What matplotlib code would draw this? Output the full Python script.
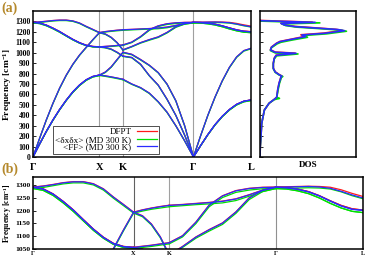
import matplotlib
matplotlib.use('Agg')
import matplotlib.pyplot as plt

plt.rcParams['font.family'] = ['Liberation Serif', 'DejaVu Serif']
plt.rcParams['font.weight'] = 'bold'
plt.rcParams['axes.labelweight'] = 'bold'
plt.rcParams['mathtext.fontset'] = 'custom'
plt.rcParams['mathtext.rm'] = 'Liberation Serif:bold'
plt.rcParams['mathtext.bf'] = 'Liberation Serif:bold'
plt.rcParams['mathtext.it'] = 'Liberation Serif:bold'

# ---------------- path ----------------
kpath_labels = ['Γ', 'X', 'K', 'Γ', 'L']
seg_lengths = [1.0, 0.354, 1.061, 0.866]

frac_gx = [0.0, 0.1, 0.2, 0.3, 0.4, 0.5, 0.6, 0.7, 0.8, 0.9, 1.0]
frac_xk = [0.0, 0.25, 0.5, 0.75, 1.0]
frac_kg = [0.0, 0.125, 0.25, 0.375, 0.5, 0.625, 0.75, 0.875, 1.0]
frac_gl = [0.0, 0.125, 0.25, 0.375, 0.5, 0.625, 0.75, 0.875, 1.0]

# ---------------- DFPT (red) ----------------
dfpt_gx_ta = [0, 125, 245, 355, 455, 545, 625, 690, 740, 772, 786]
dfpt_gx_la = [0, 180, 355, 515, 660, 785, 890, 978, 1052, 1125, 1194]
dfpt_gx_to = [1292, 1285, 1265, 1236, 1203, 1165, 1128, 1096, 1072, 1060, 1057]
dfpt_gx_lo = [1292, 1296, 1302, 1309, 1313, 1313, 1305, 1285, 1253, 1224, 1194]

dfpt_xk_1 = [786, 778, 768, 757, 745]
dfpt_xk_2 = [786, 815, 865, 935, 1005]
dfpt_xk_3 = [1057, 1061, 1065, 1070, 1075]
dfpt_xk_4 = [1057, 1050, 1035, 1005, 968]
dfpt_xk_5 = [1194, 1180, 1148, 1098, 1028]
dfpt_xk_6 = [1194, 1203, 1210, 1216, 1221]

dfpt_kg_a1 = [745, 700, 665, 612, 530, 430, 300, 155, 0]
dfpt_kg_a2 = [968, 955, 890, 780, 690, 555, 400, 210, 0]
dfpt_kg_a3 = [1005, 985, 935, 880, 810, 700, 540, 300, 0]
dfpt_kg_o1 = [1028, 1060, 1097, 1126, 1152, 1195, 1250, 1280, 1292]
dfpt_kg_o2 = [1075, 1102, 1155, 1222, 1258, 1278, 1287, 1291, 1292]
dfpt_kg_o3 = [1221, 1224, 1228, 1232, 1237, 1246, 1262, 1280, 1292]

dfpt_gl_ta = [0, 110, 215, 310, 390, 455, 505, 535, 547]
dfpt_gl_la = [0, 205, 400, 575, 730, 860, 960, 1020, 1042]
dfpt_gl_to = [1292, 1290, 1284, 1274, 1258, 1238, 1220, 1207, 1202]
dfpt_gl_lo = [1292, 1293, 1294, 1295, 1294, 1291, 1281, 1267, 1255]

# ---------------- <dx dx> (green) ----------------
dxdx_gx_ta = [0, 124, 243, 352, 452, 541, 620, 685, 735, 767, 781]
dxdx_gx_la = [0, 179, 353, 512, 656, 781, 886, 974, 1048, 1121, 1190]
dxdx_gx_to = [1286, 1279, 1259, 1230, 1197, 1160, 1123, 1092, 1068, 1056, 1053]
dxdx_gx_lo = [1286, 1290, 1297, 1304, 1308, 1308, 1300, 1280, 1248, 1219, 1190]

dxdx_xk_1 = [781, 773, 763, 752, 740]
dxdx_xk_2 = [781, 810, 860, 930, 1000]
dxdx_xk_3 = [1053, 1056, 1060, 1065, 1070]
dxdx_xk_4 = [1053, 1046, 1031, 1001, 964]
dxdx_xk_5 = [1190, 1176, 1144, 1094, 1024]
dxdx_xk_6 = [1190, 1198, 1205, 1210, 1215]

dxdx_kg_a1 = [740, 696, 661, 608, 527, 427, 298, 154, 0]
dxdx_kg_a2 = [964, 951, 886, 777, 687, 552, 398, 209, 0]
dxdx_kg_a3 = [1000, 980, 930, 876, 806, 697, 537, 298, 0]
dxdx_kg_o1 = [1024, 1056, 1092, 1120, 1146, 1189, 1243, 1274, 1286]
dxdx_kg_o2 = [1070, 1097, 1149, 1215, 1251, 1271, 1280, 1285, 1286]
dxdx_kg_o3 = [1215, 1219, 1223, 1226, 1230, 1239, 1256, 1274, 1286]

dxdx_gl_ta = [0, 109, 213, 307, 386, 450, 499, 529, 541]
dxdx_gl_la = [0, 204, 398, 572, 727, 856, 955, 1015, 1037]
dxdx_gl_to = [1286, 1284, 1277, 1266, 1249, 1228, 1210, 1197, 1192]
dxdx_gl_lo = [1286, 1287, 1288, 1289, 1288, 1284, 1273, 1258, 1246]

# ---------------- <FF> (blue) ----------------
ff_gx_ta = [0, 125, 245, 355, 455, 545, 625, 690, 740, 772, 786]
ff_gx_la = [0, 180, 355, 515, 660, 784, 889, 977, 1051, 1124, 1193]
ff_gx_to = [1291, 1284, 1264, 1235, 1202, 1164, 1127, 1095, 1071, 1059, 1056]
ff_gx_lo = [1291, 1295, 1301, 1308, 1312, 1312, 1304, 1284, 1252, 1223, 1193]

ff_xk_1 = [786, 778, 768, 757, 745]
ff_xk_2 = [786, 814, 864, 934, 1004]
ff_xk_3 = [1056, 1060, 1064, 1069, 1074]
ff_xk_4 = [1056, 1049, 1034, 1004, 967]
ff_xk_5 = [1193, 1179, 1147, 1097, 1027]
ff_xk_6 = [1193, 1202, 1209, 1215, 1220]

ff_kg_a1 = [745, 700, 665, 612, 530, 430, 300, 155, 0]
ff_kg_a2 = [967, 954, 889, 779, 689, 554, 399, 210, 0]
ff_kg_a3 = [1004, 984, 934, 879, 809, 699, 539, 300, 0]
ff_kg_o1 = [1027, 1059, 1096, 1125, 1151, 1194, 1249, 1279, 1291]
ff_kg_o2 = [1074, 1101, 1154, 1221, 1257, 1277, 1286, 1290, 1291]
ff_kg_o3 = [1220, 1223, 1227, 1231, 1236, 1245, 1261, 1279, 1291]

ff_gl_ta = [0, 110, 215, 310, 390, 455, 505, 535, 547]
ff_gl_la = [0, 205, 400, 575, 730, 860, 960, 1020, 1042]
ff_gl_to = [1291, 1289, 1283, 1273, 1257, 1237, 1218, 1205, 1201]
ff_gl_lo = [1291, 1292, 1293, 1294, 1292, 1287, 1275, 1261, 1249]

# ---------------- DOS ----------------
dos_f_dfpt = [0, 100, 195, 323, 450, 515, 553, 572, 600, 642, 706, 767, 777, 792, 817, 852, 900, 948, 977, 996,
              1006, 1028, 1054, 1092, 1108, 1130, 1156, 1172, 1188, 1213, 1224, 1236, 1252, 1267, 1283, 1293, 1309, 1312]
dos_d_dfpt = [0, 0.3, 1.0, 1.8, 4.6, 9.5, 15, 17.5, 18, 18.6, 20, 22, 23, 20, 16, 14, 14, 15, 17, 37,
              16, 11, 12, 17.5, 21, 33, 47, 43, 67, 87, 80, 62, 37, 26, 22, 55, 1, 0]

dos_f_dxdx = [0, 100, 195, 323, 450, 515, 550, 562, 568, 600, 642, 706, 762, 772, 787, 812, 846, 894, 940, 970,
              988, 998, 1020, 1047, 1085, 1100, 1122, 1148, 1165, 1181, 1206, 1217, 1229, 1245, 1260, 1276, 1286, 1303, 1306]
dos_d_dxdx = [0, 0.3, 1.0, 1.8, 4.6, 9.5, 15, 20.5, 17.5, 18.2, 19, 20.5, 22.5, 24, 20, 16, 14, 14, 15, 17.5,
              40, 16, 11, 12, 18, 22, 34, 50, 46, 70, 91, 84, 66, 39, 27, 23, 63, 1, 0]

dos_f_ff = [0, 100, 195, 323, 450, 515, 553, 572, 600, 642, 706, 765, 775, 790, 815, 850, 898, 946, 975, 994,
            1004, 1026, 1052, 1090, 1106, 1128, 1154, 1170, 1186, 1211, 1222, 1234, 1250, 1265, 1281, 1291, 1307, 1310]
dos_d_ff = [0, 0.3, 1.0, 1.8, 4.6, 9.5, 15, 17.5, 18, 18.6, 20, 22, 23, 20, 16, 14, 14, 15, 17, 38,
            16, 11, 12, 17.5, 21, 33, 48, 44, 68, 89, 82, 63, 37, 26, 22, 58, 1, 0]

series_labels = ['DFPT', '<δxδx> (MD 300 K)', '<FF> (MD 300 K)']
series_colors = ['#ff1a1a', '#00e000', '#2b2bff']

datasets = [
    [[dfpt_gx_ta, dfpt_gx_ta, dfpt_gx_la, dfpt_gx_to, dfpt_gx_to, dfpt_gx_lo],
     [dfpt_xk_1, dfpt_xk_2, dfpt_xk_3, dfpt_xk_4, dfpt_xk_5, dfpt_xk_6],
     [dfpt_kg_a1, dfpt_kg_a2, dfpt_kg_a3, dfpt_kg_o1, dfpt_kg_o2, dfpt_kg_o3],
     [dfpt_gl_ta, dfpt_gl_ta, dfpt_gl_la, dfpt_gl_to, dfpt_gl_to, dfpt_gl_lo]],
    [[dxdx_gx_ta, dxdx_gx_ta, dxdx_gx_la, dxdx_gx_to, dxdx_gx_to, dxdx_gx_lo],
     [dxdx_xk_1, dxdx_xk_2, dxdx_xk_3, dxdx_xk_4, dxdx_xk_5, dxdx_xk_6],
     [dxdx_kg_a1, dxdx_kg_a2, dxdx_kg_a3, dxdx_kg_o1, dxdx_kg_o2, dxdx_kg_o3],
     [dxdx_gl_ta, dxdx_gl_ta, dxdx_gl_la, dxdx_gl_to, dxdx_gl_to, dxdx_gl_lo]],
    [[ff_gx_ta, ff_gx_ta, ff_gx_la, ff_gx_to, ff_gx_to, ff_gx_lo],
     [ff_xk_1, ff_xk_2, ff_xk_3, ff_xk_4, ff_xk_5, ff_xk_6],
     [ff_kg_a1, ff_kg_a2, ff_kg_a3, ff_kg_o1, ff_kg_o2, ff_kg_o3],
     [ff_gl_ta, ff_gl_ta, ff_gl_la, ff_gl_to, ff_gl_to, ff_gl_lo]],
]
dos_sets = [(dos_f_dfpt, dos_d_dfpt), (dos_f_dxdx, dos_d_dxdx), (dos_f_ff, dos_d_ff)]
seg_fracs = [frac_gx, frac_xk, frac_kg, frac_gl]

# high-symmetry positions
kpos = [0.0]
for L in seg_lengths:
    kpos.append(kpos[-1] + L)

W, H = 374, 262
fig = plt.figure(figsize=(W / 100, H / 100), dpi=100)
ax1 = fig.add_axes([33 / W, 1 - 157 / H, 218 / W, 146 / H])
ax2 = fig.add_axes([260 / W, 1 - 157 / H, 96 / W, 146 / H])
ax3 = fig.add_axes([33 / W, 1 - 249 / H, 330 / W, 72 / H])


def draw_bands(ax, lw):
    handles = []
    for data, color, lab in zip(datasets, series_colors, series_labels):
        h = None
        for si, branches in enumerate(data):
            xs = [kpos[si] + f * seg_lengths[si] for f in seg_fracs[si]]
            for b in branches:
                (h,) = ax.plot(xs, b, color=color, lw=lw, solid_joinstyle='round')
        h.set_label(lab)
        handles.append(h)
    return handles


# ---- panel (a) ----
handles = draw_bands(ax1, 0.9)
for x in kpos[1:4]:
    ax1.axvline(x, color='#a0a0a0', lw=0.8, zorder=0)
ax1.set_xlim(kpos[0], kpos[-1])
ax1.set_ylim(0, 1400)
ax1.set_yticks(range(0, 1301, 100))
ax1.set_xticks(kpos, kpath_labels)
ax1.tick_params(axis='y', direction='in', length=2.5, width=0.6, labelsize=5.6, pad=2)
ax1.tick_params(axis='x', length=0, labelsize=7.5, pad=4)
leg = ax1.legend(handles=handles, loc='upper left', bbox_to_anchor=(0.092, 0.215),
                 markerfirst=False, prop={'weight': 'normal', 'size': 6.6},
                 frameon=True, fancybox=False, edgecolor='#333333', framealpha=1,
                 handlelength=2.2, handletextpad=0.6, labelspacing=-0.1, borderpad=0.25,
                 borderaxespad=0)
leg.get_frame().set_linewidth(0.6)

# ---- DOS ----
for (fq, dv), color in zip(dos_sets, series_colors):
    ax2.plot(dv, fq, color=color, lw=1.2)
ax2.set_xlim(0, 101)
ax2.set_ylim(0, 1400)
ax2.set_yticks(range(0, 1301, 100))
ax2.set_yticklabels([])
ax2.set_xticks([])
ax2.tick_params(axis='y', direction='in', length=2.5, width=0.6)
ax2.set_xlabel('DOS', fontsize=6.5, fontweight='bold', labelpad=3)

# ---- panel (b) ----
draw_bands(ax3, 0.9)
for x, c in zip(kpos[1:4], ['#606060', '#a0a0a0', '#909090']):
    ax3.axvline(x, color=c, lw=0.8, zorder=0)
ax3.set_xlim(kpos[0], kpos[-1])
ax3.set_ylim(1050, 1331)
ax3.set_yticks(range(1050, 1301, 50))
ax3.set_xticks(kpos, kpath_labels)
ax3.tick_params(axis='y', direction='in', length=2.5, width=0.6, labelsize=5.4, pad=2)
ax3.tick_params(axis='x', length=0, labelsize=4.5, pad=1.5)

for ax in (ax1, ax2, ax3):
    for s in ax.spines.values():
        s.set_linewidth(1.1)

fig.text(8 / W, 1 - 85 / H, 'Frequency [cm$^{-1}$]', rotation=90, ha='center', va='center', fontsize=6.8)
fig.text(8 / W, 1 - 213 / H, 'Frequency [cm$^{-1}$]', rotation=90, ha='center', va='center', fontsize=5.6)
fig.text(1 / W, 1 - 8 / H, '(a)', fontsize=10, color='#b5892c', ha='left', va='center')
fig.text(1 / W, 1 - 169 / H, '(b)', fontsize=10, color='#b5892c', ha='left', va='center')

fig.savefig('out.png', dpi=100)
